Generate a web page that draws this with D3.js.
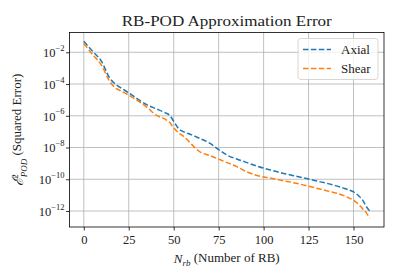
<!DOCTYPE html>
<html><head><meta charset="utf-8">
<script src="https://cdn.jsdelivr.net/npm/d3@7"></script>
<style>
body{margin:0;background:#fff;}
text{font-family:"Liberation Serif","DejaVu Serif",serif;fill:#222;}
</style></head>
<body><svg id="c" width="399" height="279"></svg>
<script>
const nValues = [0,5,10,14,17,20,25,30,35,40,45,48,50,53,55,60,63,65,70,75,80,85,90,95,100,105,110,115,120,125,130,135,140,145,150,153,155,157,159];
const axialLog = [-1.31,-1.95,-2.6,-3.55,-3.95,-4.2,-4.55,-4.95,-5.3,-5.55,-5.8,-6.0,-6.35,-6.85,-6.98,-7.2,-7.35,-7.45,-7.72,-8.13,-8.5,-8.72,-8.92,-9.12,-9.3,-9.45,-9.6,-9.73,-9.86,-9.98,-10.12,-10.25,-10.4,-10.58,-10.8,-11.05,-11.3,-11.7,-12.0];
const shearLog = [-1.45,-2.15,-2.85,-3.75,-4.2,-4.4,-4.7,-5.05,-5.45,-5.95,-6.2,-6.45,-6.75,-7.1,-7.25,-7.8,-8.14,-8.3,-8.5,-8.73,-8.97,-9.2,-9.5,-9.72,-9.85,-9.95,-10.07,-10.18,-10.3,-10.44,-10.58,-10.72,-10.86,-11.05,-11.33,-11.6,-11.85,-12.1,-12.45];
const seriesNames = ["Axial","Shear"];
const seriesColors = ["#1f77b4","#ff7f0e"];
const xTicks = [0,25,50,75,100,125,150];
const yTickExps = [-2,-4,-6,-8,-10,-12];

const series = [axialLog, shearLog].map((lg,i)=>({name:seriesNames[i],color:seriesColors[i],
  pts:nValues.map((n,j)=>({n:n,v:Math.pow(10,lg[j])}))}));

const svg = d3.select("#c");
const L=69.5, R=384, T=32.5, B=227;

const xmin=d3.min(nValues), xmax=d3.max(nValues), xm=(xmax-xmin)*0.05;
const x = d3.scaleLinear().domain([xmin-xm, xmax+xm]).range([L,R]);
const allLog = axialLog.concat(shearLog);
const lmin=d3.min(allLog), lmax=d3.max(allLog), lm=(lmax-lmin)*0.05;
const y = d3.scaleLog().domain([Math.pow(10,lmin-lm), Math.pow(10,lmax+lm)]).range([B,T]);

// grid
const g = svg.append("g");
g.selectAll(".gx").data(xTicks).enter().append("line")
 .attr("x1",d=>x(d)).attr("x2",d=>x(d)).attr("y1",T).attr("y2",B)
 .attr("stroke","#b0b0b0").attr("stroke-width",0.8);
g.selectAll(".gy").data(yTickExps).enter().append("line")
 .attr("y1",d=>y(Math.pow(10,d))).attr("y2",d=>y(Math.pow(10,d))).attr("x1",L).attr("x2",R)
 .attr("stroke","#b0b0b0").attr("stroke-width",0.8);

// lines
const line = d3.line().x(d=>x(d.n)).y(d=>y(d.v)).curve(d3.curveMonotoneX);
series.forEach(s=>{
  svg.append("path").datum(s.pts).attr("d",line).attr("fill","none")
   .attr("stroke",s.color).attr("stroke-width",1.5).attr("stroke-dasharray","5.5,2.4");
});

// axes
const xAxis = d3.axisBottom(x).tickValues(xTicks).tickSize(3.5).tickPadding(3).tickFormat(d3.format("d"));
const gx = svg.append("g").attr("transform",`translate(0,${B})`).call(xAxis);
gx.select(".domain").remove();
gx.selectAll("line").attr("stroke","#000").attr("stroke-width",0.8);
gx.selectAll("text").attr("font-size",12.5).attr("font-family","Liberation Serif, serif").attr("fill","#222").attr("dy","0.85em");

const yAxis = d3.axisLeft(y).tickValues(yTickExps.map(e=>Math.pow(10,e))).tickSize(3.5).tickPadding(3).tickFormat("");
const gy = svg.append("g").attr("transform",`translate(${L},0)`).call(yAxis);
gy.select(".domain").remove();
gy.selectAll("line").attr("stroke","#000").attr("stroke-width",0.8);
gy.selectAll(".tick").each(function(d){
  const t = d3.select(this).append("text").attr("x",-5).attr("dy","0.35em")
    .attr("text-anchor","end").attr("font-size",12.5);
  t.append("tspan").text("10");
  t.append("tspan").attr("font-size",8.5).attr("dy","-0.75em").text("\u2212"+Math.round(-Math.log10(d)));
});

// frame
svg.append("rect").attr("x",L).attr("y",T).attr("width",R-L).attr("height",B-T)
 .attr("fill","none").attr("stroke","#000").attr("stroke-width",0.8);

// title
svg.append("text").attr("x",(L+R)/2).attr("y",26).attr("text-anchor","middle")
 .attr("font-size",15.5).attr("textLength",210).attr("lengthAdjust","spacingAndGlyphs")
 .text("RB-POD Approximation Error");

// x label
const xl = svg.append("text").attr("x",(L+R)/2).attr("y",263).attr("text-anchor","middle").attr("font-size",13);
xl.append("tspan").attr("font-style","italic").text("N");
xl.append("tspan").attr("font-style","italic").attr("font-size",9).attr("dy","0.3em").text("rb");
xl.append("tspan").attr("dy","-0.3em").text(" (Number of RB)");

// y label
const yl = svg.append("text").attr("transform",`translate(23,${(T+B)/2}) rotate(-90)`).attr("text-anchor","middle").attr("font-size",13);
yl.append("tspan").attr("font-style","italic").attr("font-family","DejaVu Serif, serif").attr("font-size",14).text("\u2130");
yl.append("tspan").attr("font-size",9).attr("dy","-0.6em").attr("dx","-0.1em").text("2");
yl.append("tspan").attr("font-size",9).attr("font-style","italic").attr("dy","1.0em").attr("dx","-0.35em").text("POD");
yl.append("tspan").attr("dy","-0.4em").text(" (Squared Error)");

// legend
const lg = svg.append("g");
lg.append("rect").attr("x",298).attr("y",38.5).attr("width",80).attr("height",41).attr("rx",3)
 .attr("fill","#fff").attr("fill-opacity",0.8).attr("stroke","#ccc").attr("stroke-width",0.8);
series.forEach((s,i)=>{
  const yy = 49.5 + i*19;
  lg.append("line").attr("x1",303).attr("x2",331).attr("y1",yy).attr("y2",yy)
   .attr("stroke",s.color).attr("stroke-width",1.5).attr("stroke-dasharray","5.5,2.4");
  lg.append("text").attr("x",341).attr("y",yy).attr("dy","0.35em").attr("text-anchor","start")
   .attr("font-size",13).text(s.name);
});
</script></body></html>
